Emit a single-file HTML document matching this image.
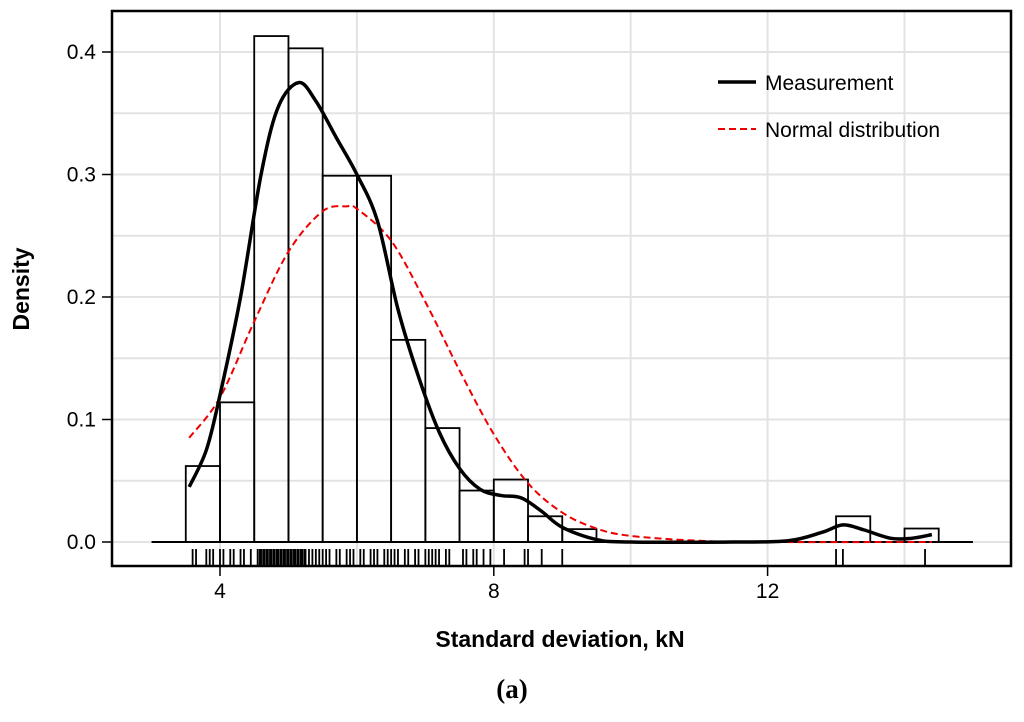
<!DOCTYPE html>
<html><head><meta charset="utf-8"><style>
body{margin:0;background:#fff}
svg text{font-family:"Liberation Sans",Arial,sans-serif}
</style></head><body>
<svg id="chart" width="1024" height="717" viewBox="0 0 1024 717" xmlns="http://www.w3.org/2000/svg">
<g id="grid"></g>
<g id="bars"></g>
<g id="lines"></g>
<g id="rug"></g>
<rect x="112" y="11" width="899" height="555" fill="none" stroke="#000" stroke-width="2.5"/>
<g id="axes"></g>
<g>
<line x1="718" y1="82" x2="756" y2="82" stroke="#000" stroke-width="3.5"/>
<text x="765" y="90" font-size="21">Measurement</text>
<line x1="718" y1="129" x2="756" y2="129" stroke="#e00" stroke-width="2" stroke-dasharray="7,4"/>
<text x="765" y="137" font-size="21">Normal distribution</text>
</g>
<text x="560" y="647" font-size="23" font-weight="bold" text-anchor="middle">Standard deviation, kN</text>
<text transform="translate(29,289) rotate(-90)" font-size="23" font-weight="bold" text-anchor="middle">Density</text>
<text x="512" y="698" font-size="27" font-weight="bold" text-anchor="middle" style="font-family:'Liberation Serif',serif">(a)</text>
</svg>
<script>
const binStarts=[3.5,4,4.5,5,5.5,6,6.5,7,7.5,8,8.5,9,13,14];
const binHeights=[0.062,0.114,0.413,0.403,0.299,0.299,0.165,0.093,0.042,0.051,0.021,0.0105,0.021,0.011];
const measX=[3.55,3.8,4,4.3,4.6,4.85,5.15,5.4,5.7,6,6.3,6.6,6.9,7.2,7.5,7.8,8.1,8.4,8.7,9,9.5,10,11.5,12.3,12.8,13.1,13.4,13.8,14.1,14.4];
const measY=[0.045,0.075,0.12,0.2,0.3,0.355,0.375,0.36,0.33,0.3,0.262,0.19,0.135,0.09,0.06,0.043,0.038,0.036,0.025,0.012,0.002,0,0,0.001,0.008,0.014,0.01,0.003,0.003,0.006];
const normX=[3.55,4,4.5,5,5.5,5.85,6,6.5,7,7.5,8,8.5,9,9.5,10,11,12,14.4];
const normY=[0.085,0.118,0.18,0.237,0.27,0.274,0.272,0.246,0.196,0.14,0.088,0.048,0.024,0.011,0.005,0.001,0,0];
const rugVals=[3.6,3.65,3.8,3.85,3.9,4.0,4.05,4.15,4.2,4.3,4.35,4.45,4.55,4.58,4.6,4.63,4.65,4.68,4.7,4.73,4.75,4.78,4.8,4.83,4.85,4.88,4.9,4.93,4.95,4.98,5.0,5.03,5.05,5.08,5.1,5.13,5.15,5.18,5.2,5.23,5.25,5.3,5.35,5.4,5.45,5.5,5.55,5.6,5.7,5.75,5.85,5.9,5.95,6.05,6.1,6.2,6.25,6.3,6.4,6.45,6.5,6.55,6.6,6.7,6.75,6.85,6.9,7.0,7.05,7.1,7.15,7.2,7.3,7.35,7.55,7.6,7.7,7.75,7.85,7.95,8.15,8.45,8.5,8.7,9.0,13.0,13.1,14.3];
const xTicks=[4,8,12];
const yTicks=[0,0.1,0.2,0.3,0.4];
const xGrid=[4,6,8,10,12,14];
const yGrid=[0,0.05,0.1,0.15,0.2,0.25,0.3,0.35,0.4];
const X=v=>220+(v-4)*68.45, Y=v=>542-v*1225;
const NS='http://www.w3.org/2000/svg';
function mk(p,t,a){const e=document.createElementNS(NS,t);for(const k in a)e.setAttribute(k,a[k]);p.appendChild(e);return e;}
function smooth(xs,ys){const p=xs.map((x,i)=>[X(x),Y(ys[i])]);let d='M'+p[0][0]+','+p[0][1];
for(let i=0;i<p.length-1;i++){const p0=p[Math.max(0,i-1)],p1=p[i],p2=p[i+1],p3=p[Math.min(p.length-1,i+2)];
const c1=[p1[0]+(p2[0]-p0[0])/6,p1[1]+(p2[1]-p0[1])/6],c2=[p2[0]-(p3[0]-p1[0])/6,p2[1]-(p3[1]-p1[1])/6];
d+=' C'+c1[0]+','+c1[1]+' '+c2[0]+','+c2[1]+' '+p2[0]+','+p2[1];}return d;}
const g=document.getElementById('grid');
xGrid.forEach(v=>{const l=mk(g,'line',{x1:X(v),x2:X(v),y1:11,y2:566,stroke:'#e3e3e3','stroke-width':2});

});
yGrid.forEach(v=>{const l=mk(g,'line',{x1:112,x2:1011,y1:Y(v),y2:Y(v),stroke:'#e3e3e3','stroke-width':2});

});
const b=document.getElementById('bars');
const base=mk(b,'line',{x1:X(3),x2:X(15),y1:Y(0),y2:Y(0),stroke:'#000','stroke-width':2});


binStarts.forEach((s,i)=>{const r=mk(b,'rect',{x:X(s),y:Y(binHeights[i]),width:X(s+0.5)-X(s),height:Y(0)-Y(binHeights[i]),fill:'none',stroke:'#000','stroke-width':1.8});

});
const L=document.getElementById('lines');
const np=mk(L,'path',{d:smooth(normX,normY),fill:'none',stroke:'#e00','stroke-width':2,'stroke-dasharray':'7,4'});


const mp=mk(L,'path',{d:smooth(measX,measY),fill:'none',stroke:'#000','stroke-width':3.5,'stroke-linejoin':'round'});


const R=document.getElementById('rug');
rugVals.forEach(v=>{const l=mk(R,'line',{x1:X(v),x2:X(v),y1:549,y2:565,stroke:'#000','stroke-width':1.8});

});
const A=document.getElementById('axes');
xTicks.forEach(v=>{mk(A,'line',{x1:X(v),x2:X(v),y1:566,y2:576,stroke:'#000','stroke-width':1.5});
const t=mk(A,'text',{x:X(v),y:598,'font-size':21,'text-anchor':'middle'});t.textContent=v;

});
yTicks.forEach(v=>{mk(A,'line',{x1:102,x2:112,y1:Y(v),y2:Y(v),stroke:'#000','stroke-width':1.5});
const t=mk(A,'text',{x:96,y:Y(v)+7,'font-size':21,'text-anchor':'end'});t.textContent=v.toFixed(1);

});
</script>
</body></html>
